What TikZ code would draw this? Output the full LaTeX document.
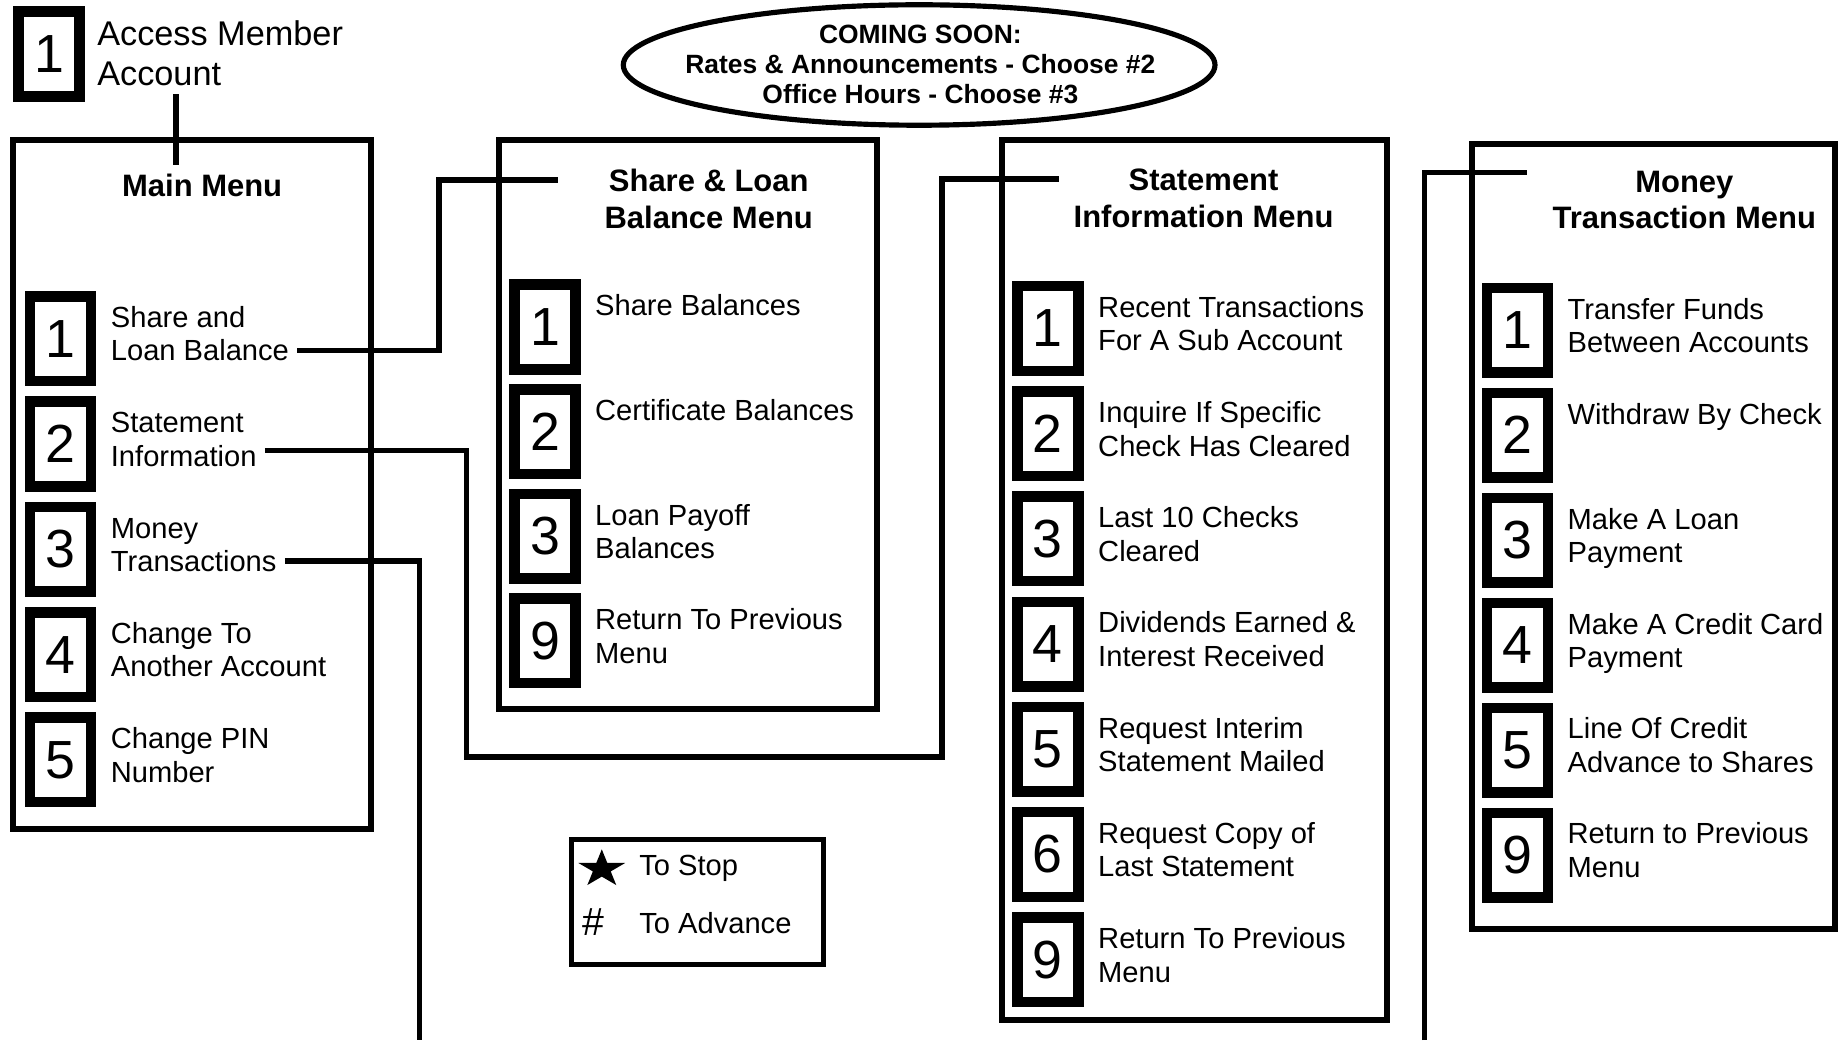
\documentclass[tikz,border=0pt]{standalone}
\usepackage{fontspec}
\setmainfont{Liberation Sans}
\usetikzlibrary{calc, shapes.geometric}

\begin{document}
\begin{tikzpicture}[x=0.02cm, y=-0.02cm,
		num/.style={draw, line width=5.1pt, minimum width=1.04cm, minimum height=1.44cm, inner sep=0pt, font=\fontsize{26}{30}\selectfont},
		txt/.style={anchor=base west, inner sep=0pt, font=\fontsize{14.1}{17}\selectfont},
		ttl/.style={anchor=base, inner sep=0pt, font=\bfseries\fontsize{15}{18}\selectfont},
		soontxt/.style={anchor=base, inner sep=0pt, font=\bfseries\fontsize{12.8}{15}\selectfont},
		frame/.style={line width=2.9pt},
		link/.style={line width=2.7pt}]
	\useasboundingbox (0,0) rectangle (1568,885);
	
	\node[num] (acc) at (41.8,46) {1};
	\node[txt, font=\fontsize{16.6}{20}\selectfont] (acc-a) at (82.4,39) {Access Member};
	\node[txt, font=\fontsize{16.6}{20}\selectfont] (acc-b) at (82.4,72.9) {Account};
	
	\node[draw, ellipse, line width=2.5pt, minimum width=10.07cm, minimum height=2.05cm, inner sep=0pt] (soon) at (782,55.3) {};
	\node[soontxt] (soon-a) at (783,36.9) {COMING SOON:};
	\node[soontxt] (soon-b) at (783,62.4) {Rates \& Announcements - Choose \#2};
	\node[soontxt] (soon-c) at (783,87.9) {Office Hours - Choose \#3};
	
	\begin{scope}[frame]
		\draw (11,119) rectangle (315.5,705);
		\draw (424.5,119) rectangle (746.5,603);
		\draw (852.5,119.4) rectangle (1180,868);
		\draw (1252,122.2) rectangle (1561.5,790);
	\end{scope}
	
	\node[ttl] (mm) at (172,166.8) {Main Menu};
	\node[ttl] (sl-a) at (603,163) {Share \& Loan};
	\node[ttl] (sl-b) at (603,194.3) {Balance Menu};
	\node[ttl] (si-a) at (1024,162.2) {Statement};
	\node[ttl] (si-b) at (1024,193.7) {Information Menu};
	\node[ttl] (mt-a) at (1433,163.4) {Money};
	\node[ttl] (mt-b) at (1433,194.3) {Transaction Menu};
	
	\foreach \n/\p/\q [count=\i from 0] in {1/Share and/Loan Balance, 2/Statement/Information, 3/Money/Transactions, 4/Change To/Another Account, 5/Change PIN/Number} {
		\node[num] (mm\n) at (51.5,{288.1+89.6*\i}) {\n};
		\node[txt] (mm\n-a) at (94,{278.6+89.6*\i}) {\p};
		\node[txt] (mm\n-b) at (94,{307.1+89.6*\i}) {\q};
	}
	\foreach \n/\p/\q [count=\i from 0] in {1/Share Balances/, 2/Certificate Balances/, 3/Loan Payoff/Balances, 9/Return To Previous/Menu} {
		\node[num] (sl\n) at (463.8,{278.2+89*\i}) {\n};
		\node[txt] (sl\n-a) at (506,{268.7+89*\i}) {\p};
		\node[txt] (sl\n-b) at (506,{297.2+89*\i}) {\q};
	}
	\foreach \n/\p/\q [count=\i from 0] in {1/Recent Transactions/For A Sub Account, 2/Inquire If Specific/Check Has Cleared, 3/Last 10 Checks/Cleared, 4/Dividends Earned \&/Interest Received, 5/Request Interim/Statement Mailed, 6/Request Copy of/Last Statement, 9/Return To Previous/Menu} {
		\node[num] (si\n) at (891.5,{279.5+89.5*\i}) {\n};
		\node[txt] (si\n-a) at (934,{270+89.5*\i}) {\p};
		\node[txt] (si\n-b) at (934,{298.5+89.5*\i}) {\q};
	}
	\foreach \n/\p/\q [count=\i from 0] in {1/Transfer Funds/Between Accounts, 2/Withdraw By Check/, 3/Make A Loan/Payment, 4/Make A Credit Card/Payment, 5/Line Of Credit/Advance to Shares, 9/Return to Previous/Menu} {
		\node[num] (mt\n) at (1291.2,{281+89.3*\i}) {\n};
		\node[txt] (mt\n-a) at (1333.4,{271.5+89.3*\i}) {\p};
		\node[txt] (mt\n-b) at (1333.4,{300+89.3*\i}) {\q};
	}
	
	\coordinate (k0) at (149.5,140);
	\coordinate (k1) at (373.5,153.1);
	\coordinate (to-sl) at (475,153.1);
	\coordinate (k2) at (397,644);
	\coordinate (k3) at (801.6,152.3);
	\coordinate (to-si) at (901,152.3);
	\coordinate (k4) at (357,885);
	\coordinate (k5) at (1212,885);
	\coordinate (to-mt) at (1299,146.9);
	
	\begin{scope}[link]
		\draw ($(acc-b.south -| k0)+(0,6.5)$) -- (k0);
		\draw ([xshift=3.8pt]mm1-b.east) -| (k1) -- (to-sl);
		\draw ([xshift=3.8pt, yshift=2.7pt]mm2-b.east) -| (k2) -| (k3) -- (to-si);
		\draw ([xshift=3.8pt]mm3-b.east) -| (k4);
		\draw (k5) |- (to-mt);
	\end{scope}
	
	\draw[line width=2.45pt] (486.2,714) rectangle (700.3,820.8);
	\begin{scope}[shift={(512,739.4)}, xscale=1.245]
		\node[star, star points=5, star point ratio=2.618, fill, inner sep=0pt, minimum size=0.672cm, transform shape] (stop) at (0,0) {};
	\end{scope}
	\node[txt] (stop-t) at (543.6,744.5) {To Stop};
	\node[txt, font=\fontsize{19}{22}\selectfont] (adv) at (495,795.5) {\#};
	\node[txt] (adv-t) at (543.6,794) {To Advance};
\end{tikzpicture}
\end{document}
